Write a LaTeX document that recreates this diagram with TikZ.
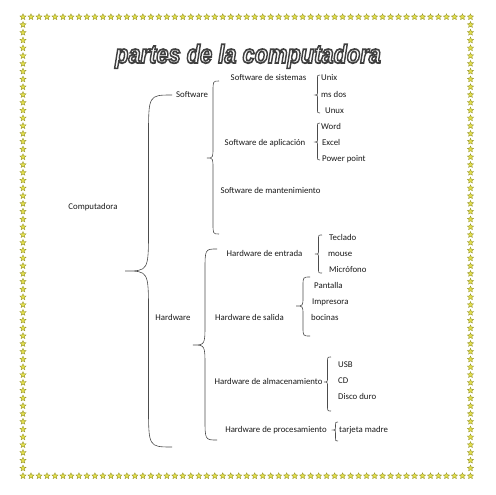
\documentclass[tikz,border=0pt]{standalone}
\usepackage{fontspec}
\setmainfont{Carlito}
\newfontfamily\titlefont{Liberation Sans}
\usetikzlibrary{positioning,shapes.geometric}
\definecolor{estrella}{RGB}{228,224,78}
\definecolor{estrellaborde}{RGB}{150,148,40}
\tikzset{
  texto/.style={font=\fontsize{8.8}{10}\selectfont, inner sep=0pt, text height=6pt, text depth=2pt, text=black!90},
  hoja/.style={texto, anchor=west},
  estrella/.style={star, star points=5, star point ratio=2.2, minimum size=6.5pt, inner sep=0pt,
    fill=estrella, draw=estrellaborde, line width=0.35pt},
  llaveline/.style={draw=black!70, line width=0.6pt},
  titulo/.style={font=\titlefont\fontsize{26}{30}\selectfont\bfseries\itshape, xscale=0.84, inner sep=0pt, anchor=base}
}
% texto con contorno: relleno blanco, trazo oscuro
\newcommand{\contorno}[1]{\special{pdf:literal direct 2 Tr 1.7 w 0.25 G 1 g}#1\special{pdf:literal direct 0 Tr 0 g 0 G}}
% llave: x de los extremos, y arriba, x punta, y punta, y abajo, radio
\newcommand{\llave}[6]{%
  \pgfmathsetmacro{\llx}{(#1+#3)/2}%
  \draw[llaveline] (#1,#2) .. controls (\llx,#2) .. (\llx,#2+#6) -- (\llx,#4-#6)
    .. controls (\llx,#4) .. (#3,#4) .. controls (\llx,#4) .. (\llx,#4+#6)
    -- (\llx,#5-#6) .. controls (\llx,#5) .. (#1,#5);
}

\begin{document}
\begin{tikzpicture}[x=1pt,y=-1pt]
    \useasboundingbox (0,0) rectangle (495,495);
    % borde de estrellas
    \foreach \i in {0,...,56} {
        \node[estrella] (st\i) at ({23+\i*7.99},17) {};
        \node[estrella] (sb\i) at ({23+\i*7.99},476) {};
    }
    \foreach \j in {1,...,58} {
        \node[estrella] (sl\j) at (23,{17+\j*7.78}) {};
        \node[estrella] (sr\j) at (470.5,{17+\j*7.78}) {};
    }
    % titulo
    \node[titulo] (titulo) at (248,63) {\contorno{partes de la computadora}};
    % raiz
    \node[texto] (compu) at (93,207) {Computadora};
    \llave{172}{95}{125}{271}{447}{42}
    \node[texto] (soft) at (192,95) {Software};
    \node[texto] (hard) at (173,318) {Hardware};
    % software
    \llave{219}{81}{207}{158}{234}{11}
    \node[texto] (sistemas) at (268.5,79) {Software de sistemas};
    \node[texto] (aplicacion) at (265,143) {Software de aplicación};
    \node[texto] (mantenimiento) at (270.5,191) {Software de mantenimiento};
    \llave{320}{75}{315}{95}{113}{4}
    \node[hoja] (unix) at (321,79) {Unix};
    \node[hoja] (msdos) at (321,95) {ms dos};
    \node[hoja] (unux) at (325,111) {Unux};
    \llave{320}{123}{315}{142}{160}{4}
    \node[hoja] (word) at (321,127) {Word};
    \node[hoja] (excel) at (322,143) {Excel};
    \node[hoja] (power) at (322,159) {Power point};
    % hardware
    \llave{217}{249}{193}{345}{440}{22}
    \node[texto] (entrada) at (264.5,254) {Hardware de entrada};
    \node[texto] (salida) at (249.5,318) {Hardware de salida};
    \node[texto] (almacen) at (268.5,382) {Hardware de almacenamiento};
    \node[texto] (proceso) at (276,430) {Hardware de procesamiento};
    \llave{322}{235}{315}{254}{273}{4}
    \node[hoja] (teclado) at (329,238) {Teclado};
    \node[hoja] (mouse) at (328,254) {mouse};
    \node[hoja] (micro) at (329,270) {Micrófono};
    \llave{310}{277}{296}{306}{336}{9}
    \node[hoja] (pantalla) at (314,286) {Pantalla};
    \node[hoja] (impresora) at (312,302) {Impresora};
    \node[hoja] (bocinas) at (311,318) {bocinas};
    \llave{331}{357}{324}{382}{411}{5}
    \node[hoja] (usb) at (338,365) {USB};
    \node[hoja] (cd) at (338,381) {CD};
    \node[hoja] (disco) at (338,397) {Disco duro};
    \llave{338}{422}{333}{430}{441}{3}
    \node[hoja] (tarjeta) at (339,430) {tarjeta madre};
\end{tikzpicture}
\end{document}
